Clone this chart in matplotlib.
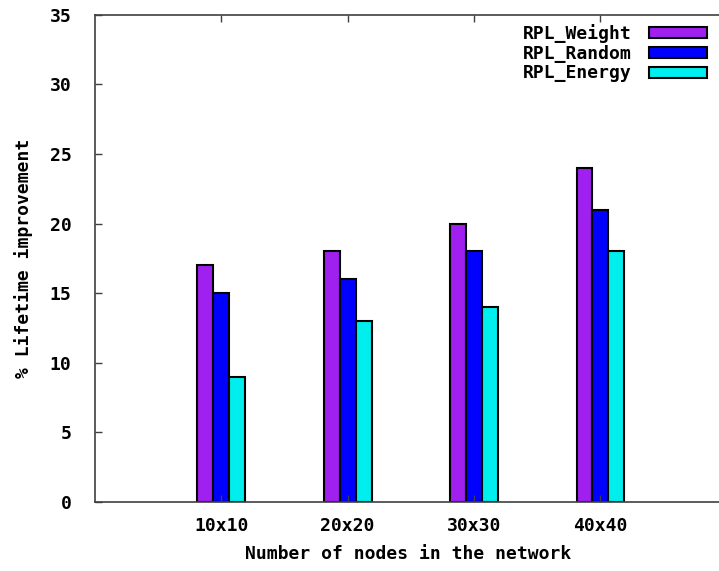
import numpy as np
import matplotlib
matplotlib.use("Agg")
import matplotlib.pyplot as plt

categories = ["10x10", "20x20", "30x30", "40x40"]
rpl_weight = [17, 18, 20, 24]
rpl_random = [15, 16, 18, 21]
rpl_energy = [9, 13, 14, 18]

series = [
    ("RPL_Weight", rpl_weight, "#a020f0"),
    ("RPL_Random", rpl_random, "#0000ff"),
    ("RPL_Energy", rpl_energy, "#00eeee"),
]

plt.rcParams["font.family"] = "DejaVu Sans Mono"
plt.rcParams["font.weight"] = "bold"
plt.rcParams["axes.labelweight"] = "bold"
plt.rcParams["font.size"] = 13

fig = plt.figure(figsize=(7.19, 5.71), dpi=100)
ax = fig.add_axes([0.132, 0.121, 0.87, 0.853])

x = np.arange(1, len(categories) + 1)
width = 0.126
for i, (label, values, color) in enumerate(series):
    ax.bar(x + (i - 1) * width, values, width, color=color,
           edgecolor="black", linewidth=1.5, label=label)

ax.set_xlim(0, 4.95)
ax.set_ylim(0, 35)
ax.set_yticks(range(0, 36, 5))
ax.set_xticks(x)
ax.set_xticklabels(categories)
ax.tick_params(axis="both", direction="in", length=5, width=1, color="#404040")
ax.tick_params(axis="x", top=True, pad=11)
ax.tick_params(axis="y", pad=17)
ax.spines["right"].set_visible(False)
for s in ["left", "top", "bottom"]:
    ax.spines[s].set_color("#404040")
    ax.spines[s].set_linewidth(1.2)

ax.set_xlabel("Number of nodes in the network", labelpad=7)
ax.set_ylabel("% Lifetime improvement", labelpad=12)

ax.legend(loc="upper right", frameon=False, markerfirst=False,
          handlelength=3.2, handleheight=0.55, labelspacing=0.1,
          handletextpad=1.0, borderaxespad=0.1, bbox_to_anchor=(0.993, 1.0))

fig.savefig("out.png", dpi=100)
